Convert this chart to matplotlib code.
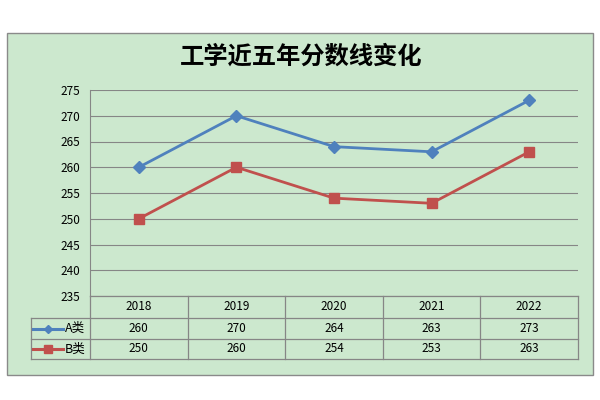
import matplotlib
matplotlib.use("Agg")
import matplotlib.pyplot as plt
from matplotlib.patches import Rectangle

plt.rcParams['font.family'] = ['Noto Sans CJK SC', 'DejaVu Sans']

years = ["2018", "2019", "2020", "2021", "2022"]
series_names = ["A类", "B类"]
a_vals = [260, 270, 264, 263, 273]
b_vals = [250, 260, 254, 253, 263]
title = "工学近五年分数线变化"
yticks = [235, 240, 245, 250, 255, 260, 265, 270, 275]

W, H = 600, 400
bg = "#CCE8CE"
grid_c = "#868686"
blue = "#4F81BD"
red = "#C0504D"

fig = plt.figure(figsize=(6, 4), dpi=100)
fig.patch.set_facecolor("white")

# overlay in pixel coords
ov = fig.add_axes([0, 0, 1, 1], zorder=0)
ov.set_xlim(0, W)
ov.set_ylim(H, 0)
ov.axis("off")
ov.add_patch(Rectangle((7, 33), 586, 342, facecolor=bg, edgecolor="#8a8a8a", lw=1.0))

# main plot axes
L, R, T, B = 90, 578, 90, 296
ax = fig.add_axes([L / W, 1 - B / H, (R - L) / W, (B - T) / H], zorder=2)
ax.patch.set_alpha(0)
x = list(range(len(years)))
ax.plot(x, a_vals, color=blue, lw=2.0, marker="D", ms=6, mfc=blue, mec=blue, zorder=3)
ax.plot(x, b_vals, color=red, lw=2.0, marker="s", ms=7.5, mfc=red, mec=red, zorder=3)
ax.set_xlim(-0.5, len(years) - 0.5)
ax.set_ylim(235, 275)
ax.set_yticks(yticks)
ax.set_yticklabels([str(t) for t in yticks], fontsize=8.5, color="black")
ax.set_xticks([])
ax.tick_params(axis="y", length=0, pad=7)
ax.grid(axis="y", color=grid_c, lw=0.8)
for s in ["top", "right", "bottom"]:
    ax.spines[s].set_visible(False)
ax.spines["left"].set_color(grid_c)
ax.spines["left"].set_linewidth(0.8)

# title
ov.text(301, 57, title, ha="center", va="center", fontsize=17.5, fontweight="bold", color="black")

# data table
col_w = (R - L) / len(years)
row_y = [296, 318, 339, 359]
lx = 31
lc = dict(color=grid_c, lw=0.9)
ov.plot([L, R], [row_y[0], row_y[0]], **lc)
for yy in row_y[1:]:
    ov.plot([lx, R], [yy, yy], **lc)
ov.plot([lx, lx], [row_y[1], row_y[3]], **lc)
for i in range(len(years) + 1):
    xx = L + i * col_w
    ov.plot([xx, xx], [row_y[0], row_y[3]], **lc)
for i, yr in enumerate(years):
    cx = L + (i + 0.5) * col_w
    ov.text(cx, (row_y[0] + row_y[1]) / 2, yr, ha="center", va="center", fontsize=8.5)
    ov.text(cx, (row_y[1] + row_y[2]) / 2, str(a_vals[i]), ha="center", va="center", fontsize=8.5)
    ov.text(cx, (row_y[2] + row_y[3]) / 2, str(b_vals[i]), ha="center", va="center", fontsize=8.5)

# legend keys
for r, (name, col, mk, ms) in enumerate([(series_names[0], blue, "D", 4.5), (series_names[1], red, "s", 6)]):
    cy = (row_y[1 + r] + row_y[2 + r]) / 2
    ov.plot([33, 63], [cy, cy], color=col, lw=2.2)
    ov.plot([47.5], [cy], marker=mk, ms=ms, color=col)
    ov.text(65, cy, name, ha="left", va="center", fontsize=9)

fig.savefig("out.png", dpi=100, facecolor="white")
